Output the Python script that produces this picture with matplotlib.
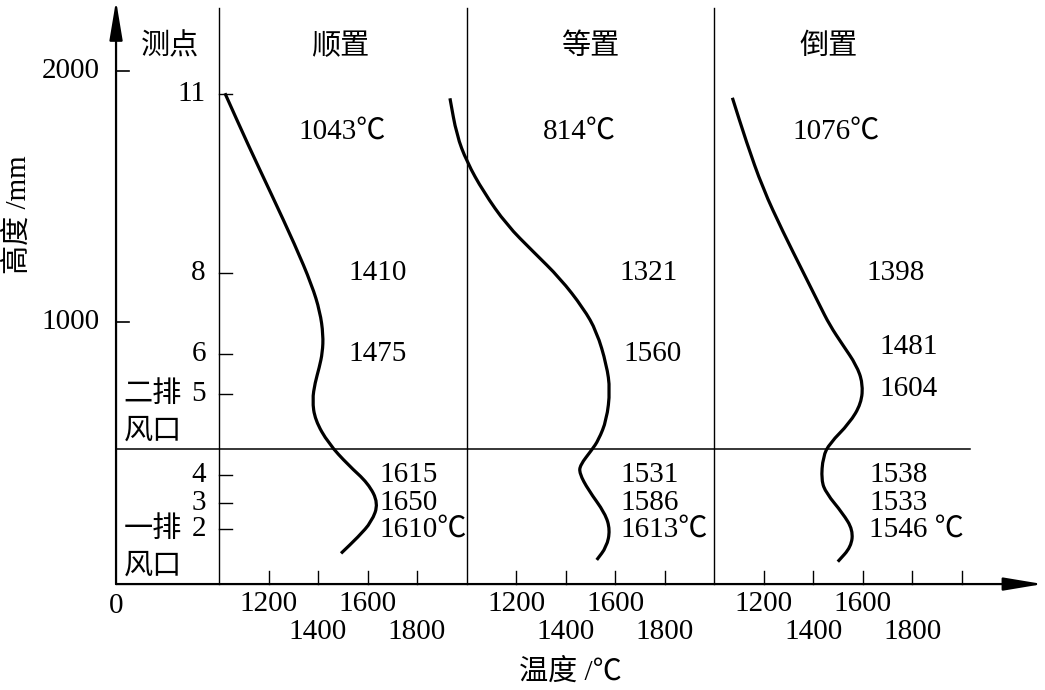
import matplotlib
matplotlib.use("Agg")
import matplotlib.pyplot as plt
from matplotlib.path import Path
from matplotlib.patches import PathPatch
import numpy as np

# 三种布料方式下炉内温度沿高度的分布
panels = ["顺置", "等置", "倒置"]

# 测点编号与高度 (mm)
point_names = ["11", "8", "6", "5", "4", "3", "2"]
point_heights = [1908, 1197, 874, 714, 392, 283, 178]
tuyere_height = 495

# 曲线读数: 温度 (℃), 高度 (mm)
t_shun = [1024, 1118, 1213, 1307, 1375, 1408, 1421, 1418, 1405, 1388, 1377, 1388, 1442,
          1522, 1603, 1644, 1617, 1563, 1493]
h_shun = [1910, 1704, 1506, 1307, 1148, 1042, 950, 880, 820, 760, 691, 612, 519,
          433, 360, 281, 208, 148, 82]
t_deng = [933, 960, 1001, 1068, 1162, 1270, 1378, 1472, 1526, 1566, 1580, 1566,
          1533, 1506, 1459, 1456, 1492, 1560, 1580, 1566, 1526]
h_deng = [1890, 1744, 1638, 1519, 1387, 1280, 1175, 1056, 963, 830, 731, 612,
          532, 493, 433, 400, 334, 241, 175, 108, 56]
t_dao = [1074, 1130, 1197, 1278, 1359, 1426, 1467, 1520, 1575, 1601, 1595, 1547,
         1467, 1440, 1433, 1453, 1520, 1561, 1554, 1500]
h_dao = [1892, 1718, 1532, 1360, 1201, 1069, 989, 910, 830, 758, 678, 599,
         519, 466, 373, 321, 241, 175, 108, 49]

# 各测点温度标注
labels_shun = ["1043℃", "1410", "1475", "1615", "1650", "1610℃"]
labels_deng = ["814℃", "1321", "1560", "1531", "1586", "1613℃"]
labels_dao = ["1076℃", "1398", "1481", "1604", "1538", "1533", "1546 ℃"]

x_ticks = [1200, 1400, 1600, 1800]
y_ticks = [1000, 2000]

# ---------- 版面 ----------
FONT = ["Liberation Serif", "Noto Sans CJK SC"]
plt.rcParams["font.family"] = FONT
FS = 21

fig = plt.figure(figsize=(10.45, 6.9), dpi=100)
ax = fig.add_axes([0, 0, 1, 1])
ax.set_xlim(115.2, 4337)
ax.set_ylim(-460.9, 2280.5)
ax.axis("off")

X0 = 584     # 纵轴位置
Y0 = -40     # 横轴位置
TOP = 2249
RIGHT = 4034
PANEL = 1000  # 每栏的偏移

def px(k, t):
    return t + PANEL * k

def smooth_path(xs, ys):
    # 以读数点为控制点的二次曲线, 让折线圆滑
    p = np.column_stack([xs, ys])
    mids = (p[:-1] + p[1:]) / 2
    verts = [p[0], mids[0]]
    codes = [Path.MOVETO, Path.LINETO]
    for i in range(1, len(p) - 1):
        verts += [p[i], mids[i]]
        codes += [Path.CURVE3, Path.CURVE3]
    verts.append(p[-1])
    codes.append(Path.LINETO)
    return Path(verts, codes)

arrow = dict(arrowstyle="-|>,head_length=1.2,head_width=0.2", lw=1.6, color="k",
             shrinkA=0, shrinkB=0, mutation_scale=20)
ax.annotate("", xy=(X0, 2278), xytext=(X0, Y0), arrowprops=arrow)
ax.annotate("", xy=(4328, Y0), xytext=(X0, Y0), arrowprops=arrow)

# 栏分隔线, 风口线
for k in range(3):
    ax.plot([px(k, 1000)] * 2, [Y0, TOP], color="k", lw=1.0)
ax.plot([X0, RIGHT], [tuyere_height] * 2, color="k", lw=1.1)

# 纵轴刻度
for v in y_ticks:
    ax.plot([X0, X0 + 52], [v, v], color="k", lw=1.2)
    ax.text(519, v, str(v), ha="right", va="center", fontsize=FS)
ax.text(X0, -75, "0", ha="center", va="top", fontsize=FS)

# 测点刻度
for name, h in zip(point_names, point_heights):
    ax.plot([1000, 1052], [h, h], color="k", lw=1.0)
    ax.text(947, h, name, ha="right", va="center", fontsize=FS)

# 横轴刻度
for k in range(3):
    tks = x_ticks + ([2000] if k == 2 else [])
    for t in tks:
        ax.plot([px(k, t)] * 2, [Y0, Y0 + 52], color="k", lw=1.0)
    for t in x_ticks:
        y = -119 if t in (1200, 1600) else -230
        ax.text(px(k, t), y, str(t), ha="center", va="center", fontsize=FS)

# 标题与轴名
ax.text(802, 2094, "测点", ha="center", va="center", fontsize=FS)
for k, (name, t) in enumerate(zip(panels, [1489, 1499, 1461])):
    ax.text(px(k, t), 2094, name, ha="center", va="center", fontsize=FS)
ax.text(733, 714, "二排", ha="center", va="center", fontsize=FS)
ax.text(733, 564, "风口", ha="center", va="center", fontsize=FS)
ax.text(733, 178, "一排", ha="center", va="center", fontsize=FS)
ax.text(733, 28, "风口", ha="center", va="center", fontsize=FS)
ax.text(2418, -389, "温度 /℃", ha="center", va="center", fontsize=FS)
ax.text(188, 1426, "高度 /mm", ha="center", va="center", rotation=90, fontsize=FS)

# 曲线
for k, (t, h) in enumerate([(t_shun, h_shun), (t_deng, h_deng), (t_dao, h_dao)]):
    path = smooth_path(px(k, np.array(t, dtype=float)), np.array(h, dtype=float))
    ax.add_patch(PathPatch(path, facecolor="none", edgecolor="k", lw=2.3,
                           capstyle="butt", joinstyle="round"))

# 温度标注
pos_shun = [(1319, 1756), (1521, 1197), (1521, 874), (1650, 392), (1650, 283), (1650, 178)]
pos_deng = [(1309, 1756), (1616, 1197), (1632, 874), (1620, 392), (1620, 283), (1620, 178)]
pos_dao = [(1315, 1756), (1614, 1197), (1667, 902), (1667, 735), (1626, 392), (1626, 283),
           (1626, 178)]
for k, (labs, poss) in enumerate([(labels_shun, pos_shun), (labels_deng, pos_deng),
                                  (labels_dao, pos_dao)]):
    for s, (t, h) in zip(labs, poss):
        ax.text(px(k, t), h, s, ha="left", va="center", fontsize=FS)

fig.savefig("out.png", dpi=100)
